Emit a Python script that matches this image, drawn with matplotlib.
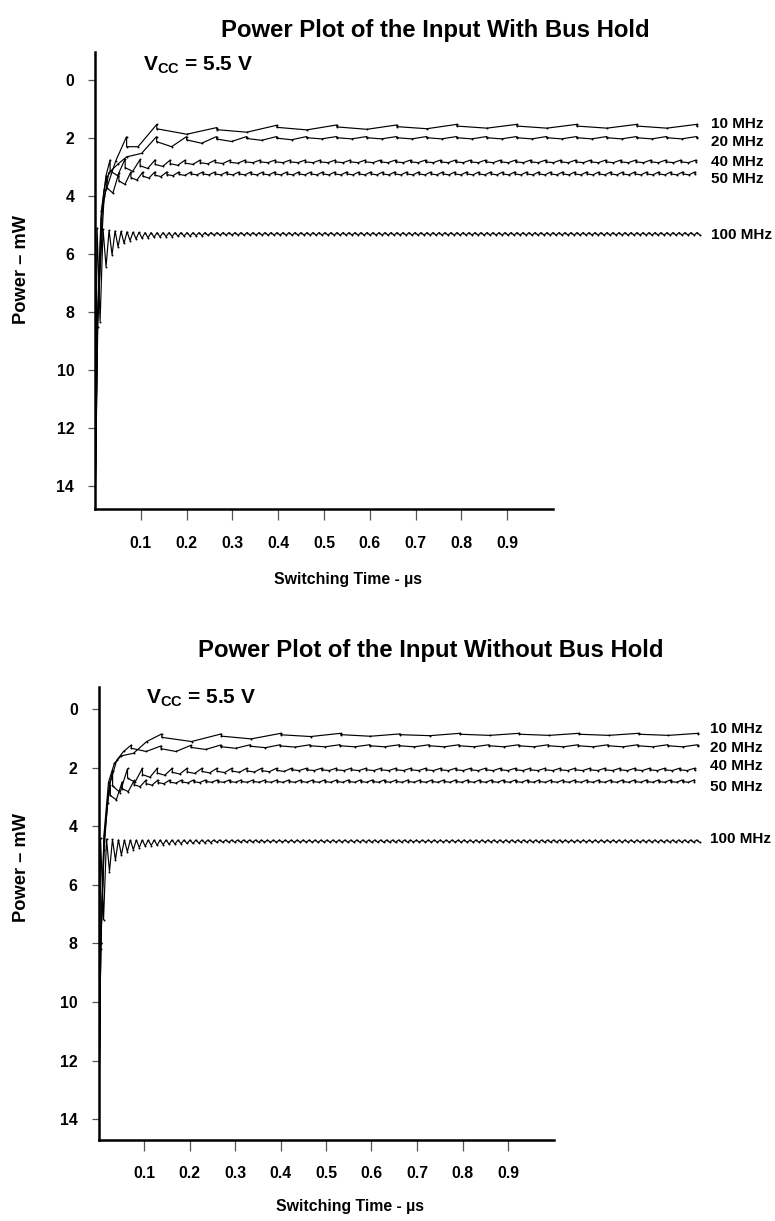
import matplotlib
matplotlib.use("Agg")
import matplotlib.pyplot as plt
from matplotlib import font_manager

plt.rcParams['font.family'] = ['Liberation Sans', 'DejaVu Sans']
plt.rcParams['font.weight'] = 'bold'
plt.rcParams['mathtext.fontset'] = 'custom'
plt.rcParams['mathtext.bf'] = 'Liberation Sans:bold'
plt.rcParams['mathtext.rm'] = 'Liberation Sans:bold'

_names = {f.name for f in font_manager.fontManager.ttflist}
if 'Liberation Sans Narrow' in _names:
    COND = ['Liberation Sans Narrow', 'Liberation Sans', 'DejaVu Sans']
    K = 1.0
else:
    COND = ['Liberation Sans', 'DejaVu Sans']
    K = 0.82

# ---------------- data ----------------
freq_labels = ["10 MHz", "20 MHz", "40 MHz", "50 MHz", "100 MHz"]
period_us = [0.131, 0.0655, 0.0328, 0.0262, 0.0131]
t_end = 1.322
x_ticks = [0.1, 0.2, 0.3, 0.4, 0.5, 0.6, 0.7, 0.8, 0.9]
y_ticks = [0, 2, 4, 6, 8, 10, 12, 14]

# ---- With bus hold ----
hold_rise_t = [
    [0.0, 0.006, 0.02, 0.045, 0.069, 0.069, 0.094],
    [0.0, 0.006, 0.016, 0.03, 0.05],
    [0.0, 0.005, 0.014, 0.024],
    [0.0, 0.005, 0.013, 0.02],
    [0.0],
]
hold_rise_mw = [
    [15.0, 8.0, 4.0, 2.8, 1.95, 2.3, 2.3],
    [15.0, 8.5, 4.5, 3.2, 2.9],
    [15.0, 8.5, 4.5, 3.3],
    [15.0, 8.5, 4.8, 3.8],
    [15.0],
]
hold_first_peak_t = [0.135, 0.069, 0.033, 0.026, 0.0045]
hold_peaks = [
    [1.53, 1.64, 1.56, 1.55, 1.55],
    [2.65, 1.95, 1.95, 1.95],
    [2.75, 2.72, 2.74, 2.75],
    [3.30, 3.20, 3.17],
    [5.10, 5.15, 5.18, 5.20, 5.22, 5.23, 5.24, 5.25],
]
hold_troughs = [
    [1.87, 1.80, 1.72, 1.70, 1.68],
    [2.53, 2.30, 2.18, 2.12, 2.08, 2.06],
    [3.30, 3.15, 3.05, 2.98, 2.94, 2.91, 2.89, 2.88, 2.87],
    [3.90, 3.60, 3.45, 3.38, 3.33, 3.30, 3.29],
    [8.33, 6.44, 6.03, 5.75, 5.63, 5.54, 5.48, 5.46, 5.44, 5.42,
     5.41, 5.40, 5.40, 5.39, 5.38, 5.38, 5.37, 5.37, 5.36],
]
hold_steady_peak = [1.53, 1.95, 2.76, 3.17, 5.26]
hold_steady_trough = [1.66, 2.03, 2.85, 3.27, 5.35]
hold_step_frac = [0.45, 0.5, 0.7, 0.7, 0.0]

# ---- Without bus hold ----
nohold_rise_t = [
    [0.0, 0.005, 0.012, 0.022, 0.035, 0.05, 0.077, 0.106],
    [0.0, 0.005, 0.013, 0.024, 0.04, 0.055],
    [0.0, 0.005, 0.012, 0.022],
    [0.0, 0.005, 0.012, 0.02],
    [0.0],
]
nohold_rise_mw = [
    [15.0, 8.0, 4.3, 2.5, 1.85, 1.6, 1.51, 1.11],
    [15.0, 8.2, 4.4, 2.6, 1.75, 1.45],
    [15.0, 8.0, 4.5, 2.8],
    [15.0, 8.0, 4.8, 3.2],
    [15.0],
]
nohold_first_peak_t = [0.139, 0.072, 0.031, 0.026, 0.0045]
nohold_peaks = [
    [0.85, 0.85, 0.83, 0.83, 0.85],
    [1.23, 1.26, 1.24, 1.23],
    [2.10, 2.03],
    [2.60, 2.48, 2.44],
    [4.40, 4.43, 4.45, 4.46],
]
nohold_troughs = [
    [1.11, 1.02, 0.94, 0.93, 0.91],
    [1.45, 1.45, 1.38, 1.34, 1.32, 1.30],
    [2.85, 2.50, 2.33, 2.26, 2.22, 2.20, 2.18, 2.17, 2.16, 2.15, 2.14, 2.13],
    [3.10, 2.82, 2.65, 2.60, 2.55, 2.53, 2.52, 2.51],
    [7.20, 5.55, 5.15, 4.98, 4.87, 4.80, 4.73, 4.68, 4.66, 4.65,
     4.63, 4.62, 4.61, 4.60, 4.59, 4.59, 4.58, 4.57, 4.56],
]
nohold_steady_peak = [0.83, 1.22, 2.02, 2.42, 4.47]
nohold_steady_trough = [0.90, 1.29, 2.10, 2.50, 4.55]
nohold_step_frac = [0.45, 0.5, 0.7, 0.7, 0.0]


def build(rise_t, rise_v, t1, P, peaks, troughs, sp, st, frac):
    t = list(rise_t)
    v = list(rise_v)
    k = 0
    tk = t1
    while tk <= t_end + 1e-9:
        pk = peaks[k] if k < len(peaks) else sp
        tr = troughs[k] if k < len(troughs) else st
        t.append(tk); v.append(pk)
        s = frac * max(tr - pk, 0.0)
        if s > 0:
            t.append(tk); v.append(pk + s)
        th = tk + P / 2
        if th <= t_end + 1e-9:
            t.append(th); v.append(tr)
        tk += P
        k += 1
    return t, v


# ---------------- layout ----------------
W, H = 775, 1221
fig = plt.figure(figsize=(W / 100, H / 100), dpi=100)
XMAX = 1.33


def add_axes_px(left, top, right, bottom):
    return fig.add_axes([left / W, 1 - bottom / H, (right - left) / W, (bottom - top) / H])


def style(ax, ylim):
    ax.set_xlim(0, XMAX)
    ax.set_ylim(*ylim)
    ax.spines['top'].set_visible(False)
    ax.spines['right'].set_visible(False)
    ax.spines['left'].set_linewidth(1.8)
    ax.spines['bottom'].set_linewidth(1.8)
    ax.spines['bottom'].set_bounds(0, 1.0)
    ax.set_xticks(x_ticks)
    ax.set_xticklabels([f"{x:.1f}" for x in x_ticks])
    ax.set_yticks(y_ticks)
    ax.set_yticklabels([str(y) for y in y_ticks])
    ax.tick_params(axis='x', direction='out', length=8, width=0.9, color='#555555',
                   pad=11)
    ax.tick_params(axis='y', direction='out', length=5, width=0.9, color='#555555',
                   pad=10)
    for lbl in ax.get_xticklabels() + ax.get_yticklabels():
        lbl.set_fontweight('bold')
        lbl.set_family(COND)
        lbl.set_fontsize(14 * K)


def draw(ax, rise_t, rise_mw, first_t, peaks, troughs, sp, st, frac, label_y):
    for i in range(len(freq_labels)):
        t, v = build(rise_t[i], rise_mw[i], first_t[i], period_us[i], peaks[i],
                     troughs[i], sp[i], st[i], frac[i])
        ax.plot(t, v, color='black', lw=0.85, marker='o', ms=1.4, mew=0,
                solid_joinstyle='miter')
        ax.text(1.345, label_y[i], freq_labels[i], fontsize=11, fontweight='bold',
                va='center', ha='left', clip_on=False)


# top axes: x=0 at px 95 with 458 px/unit; y=0 at px 80 with 29 px/unit
ax1 = add_axes_px(95, 80 - 0.95 * 29, 95 + XMAX * 458, 80 + 14.8 * 29)
style(ax1, (14.8, -0.95))
draw(ax1, hold_rise_t, hold_rise_mw, hold_first_peak_t, hold_peaks, hold_troughs,
     hold_steady_peak, hold_steady_trough, hold_step_frac,
     [1.52, 2.14, 2.83, 3.41, 5.34])

# bottom axes: x=0 at px 98.5 with 455 px/unit; y=0 at px 709 with 29.3 px/unit
ax2 = add_axes_px(98.5, 709 - 0.75 * 29.3, 98.5 + XMAX * 455, 709 + 14.7 * 29.3)
style(ax2, (14.7, -0.75))
draw(ax2, nohold_rise_t, nohold_rise_mw, nohold_first_peak_t, nohold_peaks,
     nohold_troughs, nohold_steady_peak, nohold_steady_trough, nohold_step_frac,
     [0.68, 1.34, 1.95, 2.67, 4.44])

# texts
for (x, y, s) in [(435, 31, "Power Plot of the Input With Bus Hold"),
                  (431, 650, "Power Plot of the Input Without Bus Hold")]:
    fig.text(x / W, 1 - y / H, s, ha='center', va='center', fontsize=21 * K,
             fontweight='bold', family=COND)
for y in (270, 868):
    fig.text(22 / W, 1 - y / H, "Power – mW", rotation=90, ha='center', va='center',
             fontsize=16 * K, fontweight='bold', family=COND)
for (x, y) in [(348, 580), (350, 1207)]:
    fig.text(x / W, 1 - y / H, "Switching Time - µs", ha='center', va='center',
             fontsize=14 * K, fontweight='bold', family=COND)
for (x, y) in [(143, 65), (146, 698)]:
    fig.text(x / W, 1 - y / H, r"$\mathbf{V_{CC}}$ = 5.5 V", ha='left', va='center',
             fontsize=15, fontweight='bold')

fig.savefig("out.png", dpi=100)
